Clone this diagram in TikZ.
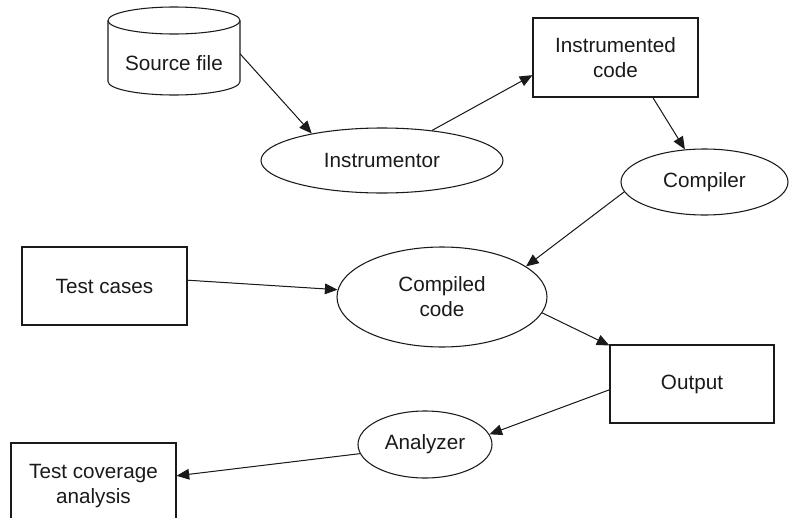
\documentclass[tikz,border=0pt]{standalone}
\usepackage{fontspec}
\setmainfont{Liberation Sans}
\usetikzlibrary{shapes.geometric,arrows.meta}
\definecolor{ink}{HTML}{1A1A1A}
\begin{document}
\begin{tikzpicture}[x=0.75pt,y=0.75pt, line width=0.8pt, draw=ink, text=ink,
  font=\fontsize{15.5}{18.75}\selectfont,
  box/.style={draw, rectangle, align=center, inner sep=0pt},
  oval/.style={draw, ellipse, align=center, inner sep=0pt},
  plain/.style={rectangle, align=center, inner sep=0pt, outer sep=0pt},
  arr/.style={-{Triangle[length=9.5pt,width=8pt]}, line width=0.75pt, draw=ink, fill=ink}]
\useasboundingbox (0,0) rectangle (790,-518);
% cylinder "Source file"
\draw (174,-20.5) ellipse [x radius=66, y radius=13.5];
\draw (108,-20.5) -- (108,-81.5) arc [start angle=180, end angle=360, x radius=66, y radius=13.5] -- (240,-20.5);
\node[plain, minimum width=99pt, minimum height=48pt] (src) at (174,-63) {Source file};
% nodes
\node[oval, minimum width=181.5pt, minimum height=48.75pt] (instr) at (382,-160.5) {Instrumentor};
\node[box, minimum width=123.75pt, minimum height=59.25pt] (icode) at (615.5,-57.5) {Instrumented\\code};
\node[oval, minimum width=125.25pt, minimum height=49.5pt] (comp) at (704.5,-182) {Compiler};
\node[box, minimum width=123.75pt, minimum height=58.5pt] (tcases) at (104.5,-286) {Test cases};
\node[oval, minimum width=157.5pt, minimum height=75pt] (ccode) at (442,-297) {Compiled\\code};
\node[box, minimum width=123pt, minimum height=58.5pt] (out) at (692,-384) {Output};
\node[oval, minimum width=100.5pt, minimum height=50.25pt] (anal) at (425,-444.5) {Analyzer};
\begin{scope}
\clip (0,0) rectangle (790,-518);
\node[box, minimum width=123.75pt, minimum height=64.5pt] (tcov) at (93.5,-486) {Test coverage\\analysis};
\end{scope}
% connectors
\draw[arr] (src.8.6) -- (instr.159);
\draw[arr] (instr.31.4) -- (icode.192);
\draw[arr] (icode.313) -- (comp.121);
\draw[arr] (comp.187.5) -- (ccode.20.4);
\draw[arr] (tcases.4.2) -- (ccode.176.2);
\draw[arr] (ccode.351) -- (out.155);
\draw[arr] (out.184.2) -- (anal.9.9);
\draw[arr] (anal.188.9) -- (tcov.7.5);
\end{tikzpicture}
\end{document}
